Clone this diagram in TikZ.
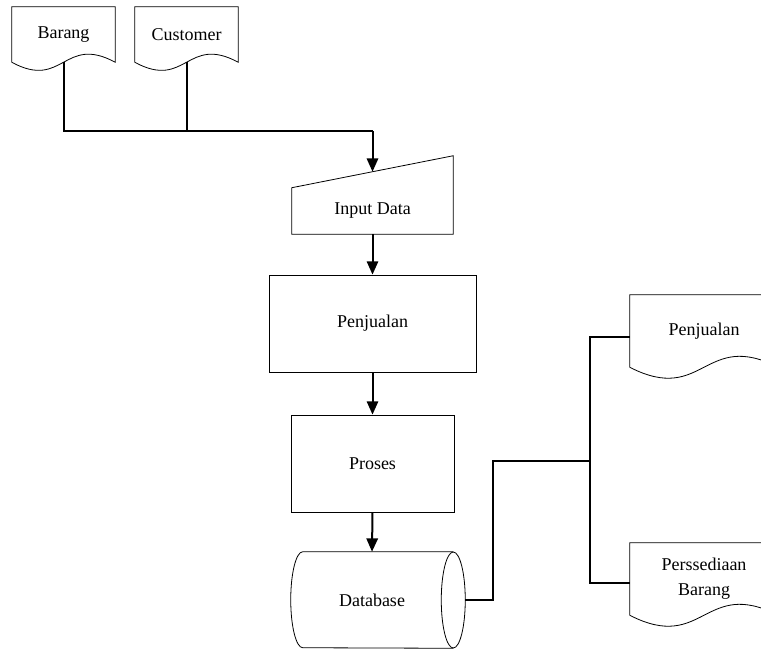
\documentclass[tikz,border=0pt]{standalone}
\usepackage{fontspec}
\setmainfont{Liberation Serif}
\usetikzlibrary{calc,arrows.meta}
\newcommand\docoutline[2]{\draw[shp] (#1.south west) -- (#1.north west) -- (#1.north east) -- (#1.south east) .. controls ($(#1.south)+(0,-#2)$) and ($(#1.south)+(0,#2)$) .. (#1.south west);}
\begin{document}
\begin{tikzpicture}[x=0.75pt,y=-0.75pt,
  lbl/.style={inner sep=0pt, font=\fontsize{13.5}{18.75}\selectfont, align=center},
  shp/.style={draw=black, line width=0.6pt},
  conn/.style={draw=black, line width=1.5pt},
  arr/.style={conn, -{Triangle[length=10pt,width=8.5pt]}}]
\useasboundingbox (0,0) rectangle (761,650);
\clip (0,0) rectangle (761,650);
% documents top left
\node[lbl, minimum width={103*0.75pt}, minimum height={55*0.75pt}] (barang) at (63.5,34.5) {Barang};
\node[lbl, minimum width={103*0.75pt}, minimum height={55*0.75pt}] (customer) at (186.5,34.5) {Customer};
\docoutline{barang}{28}
\docoutline{customer}{28}
% manual input
\node[lbl, minimum width={161*0.75pt}, minimum height={46*0.75pt}] (inp) at (372.5,211) {Input Data};
\draw[shp] (inp.south west) -- (inp.north west) -- ($(inp.north east)+(0,-32)$) -- (inp.south east) -- cycle;
\coordinate (inpTop) at ($(inp.north)+(0,-16)$);
% process boxes
\node[lbl, shp, minimum width={207*0.75pt}, minimum height={97*0.75pt}] (pen) at (372.5,323.5) {Penjualan};
\node[lbl, shp, minimum width={163*0.75pt}, minimum height={97*0.75pt}] (proses) at (372.5,463.5) {Proses};
% database
\node[lbl, minimum width={162*0.75pt}, minimum height={96*0.75pt}] (db) at (372,600) {Database};
\draw[shp] (db.east) ellipse[x radius=12, y radius=48];
\draw[shp] (db.north east) -- ($(db.north west)+(12,0)$) arc[start angle=270, end angle=90, x radius=12, y radius=48] -- (db.south east);
\coordinate (dbR) at ($(db.east)+(12,0)$);
% output documents right
\node[lbl, minimum width={148*0.75pt}, minimum height={72*0.75pt}] (outpen) at (704,331) {Penjualan};
\node[lbl, minimum width={148*0.75pt}, minimum height={72*0.75pt}] (outbrg) at (704,579) {Perssediaan\\Barang};
\docoutline{outpen}{38}
\docoutline{outbrg}{38}
% connectors
\coordinate (j) at (372.5,131);
\draw[conn] (barang.south) |- (j);
\draw[conn] (customer.south) -- (customer.south |- j);
\draw[arr] (j) -- (inpTop);
\draw[arr] (inp.south) -- (pen.north);
\draw[arr] (pen.south) -- (proses.north);
\draw[arr] (proses.south) -- (db.north);
\coordinate (m) at (493,461);
\coordinate (k) at (590,461);
\draw[conn] (dbR) -| (m) -- (k);
\draw[conn] (k) |- ([yshift=-4.5pt]outpen.west);
\draw[conn] (k) |- ([yshift=-3pt]outbrg.west);
\end{tikzpicture}
\end{document}
